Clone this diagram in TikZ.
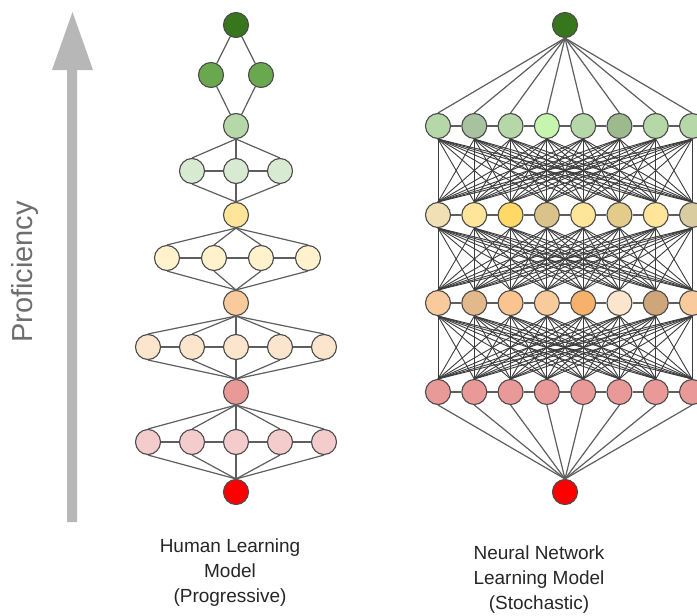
\documentclass[tikz,border=0pt]{standalone}
\usepackage{fontspec}
\setmainfont{Liberation Sans}
\definecolor{ndborder}{HTML}{4A4A4A}
\definecolor{lncol}{HTML}{5E5E5E}
\definecolor{meshcol}{HTML}{3C3C3C}
\definecolor{arrowgray}{HTML}{B7B7B7}
\definecolor{profgray}{HTML}{6E6E6E}
\definecolor{captxt}{HTML}{262626}
\definecolor{dg}{HTML}{38761D}
\definecolor{mg}{HTML}{6AA84F}
\definecolor{lg}{HTML}{B6D7A8}
\definecolor{plg}{HTML}{D9EAD3}
\definecolor{ly}{HTML}{FFE599}
\definecolor{ply}{HTML}{FFF2CC}
\definecolor{lo}{HTML}{F9CB9C}
\definecolor{plo}{HTML}{FCE5CD}
\definecolor{lr}{HTML}{EA9999}
\definecolor{plr}{HTML}{F4CCCC}
\definecolor{rd}{HTML}{FF0000}
\definecolor{ga}{HTML}{A8C2A0}
\definecolor{gb}{HTML}{C6F5B0}
\definecolor{gc}{HTML}{9DBA8E}
\definecolor{ya}{HTML}{F1E0B5}
\definecolor{yb}{HTML}{FFD966}
\definecolor{yc}{HTML}{D9C38A}
\definecolor{yd}{HTML}{E3CC8A}
\definecolor{ye}{HTML}{D8CCA0}
\definecolor{oa}{HTML}{E3B98C}
\definecolor{ob}{HTML}{F9C48F}
\definecolor{oc}{HTML}{F6B26B}
\definecolor{od}{HTML}{CFA57A}
\begin{document}
\begin{tikzpicture}[x=1pt,y=-1pt,
  nd/.style={circle,draw=ndborder,line width=1.1pt,minimum size=25pt,inner sep=0pt},
  ln/.style={draw=lncol,line width=1.2pt},
  mesh/.style={draw=meshcol,line width=0.9pt},
  captext/.style={align=center,text=captxt,font=\fontsize{19}{25}\selectfont}]
\useasboundingbox (0,0) rectangle (697,616);
% proficiency arrow
\fill[arrowgray] (67,522) -- (67,70) -- (52,70) -- (72.5,12) -- (93,70) -- (77,70) -- (77,522) -- cycle;
\node[rotate=90,text=profgray,font=\fontsize{29}{34}\selectfont] (prof) at (25,272) {Proficiency};
% ---------- left: human learning model ----------
\node[nd,fill=dg] (L0) at (236,25) {};
\node[nd,fill=mg] (L1a) at (211,75) {};
\node[nd,fill=mg] (L1b) at (261,75) {};
\node[nd,fill=lg] (L2) at (236,126) {};
\foreach \x [count=\i] in {192,236,280}
  \node[nd,fill=plg] (L3\i) at (\x,171) {};
\node[nd,fill=ly] (L4) at (236,215) {};
\foreach \x [count=\i] in {167,214,261,308}
  \node[nd,fill=ply] (L5\i) at (\x,258) {};
\node[nd,fill=lo] (L6) at (236,303) {};
\foreach \x [count=\i] in {148,192,236,280,324}
  \node[nd,fill=plo] (L7\i) at (\x,347) {};
\node[nd,fill=lr] (L8) at (236,392) {};
\foreach \x [count=\i] in {148,192,236,280,324}
  \node[nd,fill=plr] (L9\i) at (\x,442) {};
\node[nd,fill=rd] (L10) at (236,492) {};
% left edges
\draw[ln] (L0) -- (L1a); \draw[ln] (L0) -- (L1b);
\draw[ln] (L1a) -- (L2); \draw[ln] (L1b) -- (L2);
\foreach \i in {1,2,3} {\draw[ln] (L2.south) -- (L3\i.north); \draw[ln] (L3\i.south) -- (L4.north);}
\draw[ln] (L31) -- (L32); \draw[ln] (L32) -- (L33);
\foreach \i in {1,...,4} {\draw[ln] (L4.south) -- (L5\i.north); \draw[ln] (L5\i.south) -- (L6.north);}
\draw[ln] (L51) -- (L52); \draw[ln] (L52) -- (L53); \draw[ln] (L53) -- (L54);
\foreach \i in {1,...,5} {\draw[ln] (L6.south) -- (L7\i.north); \draw[ln] (L7\i.south) -- (L8.north);
  \draw[ln] (L8.south) -- (L9\i.north); \draw[ln] (L9\i.south) -- (L10.north);}
\foreach \i/\j in {1/2,2/3,3/4,4/5} {\draw[ln] (L7\i) -- (L7\j); \draw[ln] (L9\i) -- (L9\j);}
% ---------- right: neural network model ----------
\node[nd,fill=dg] (R0) at (565,25) {};
\foreach \c [count=\i] in {lg,ga,lg,gb,lg,gc,lg,lg}
  \node[nd,fill=\c] (G\i) at ({438+36.29*(\i-1)},126) {};
\foreach \c [count=\i] in {ya,ly,yb,yc,ly,yd,ly,ye}
  \node[nd,fill=\c] (Y\i) at ({438+36.29*(\i-1)},215) {};
\foreach \c [count=\i] in {lo,oa,ob,lo,oc,plo,od,lo}
  \node[nd,fill=\c] (O\i) at ({438+36.29*(\i-1)},303) {};
\foreach \i in {1,...,8}
  \node[nd,fill=lr] (P\i) at ({438+36.29*(\i-1)},392) {};
\node[nd,fill=rd] (R9) at (565,492) {};
% right edges
\foreach \i in {1,...,8} {\draw[ln] (R0.south) -- (G\i.north); \draw[ln] (P\i.south) -- (R9.north);}
\foreach \i/\j in {1/2,2/3,3/4,4/5,5/6,6/7,7/8}
  {\draw[ln] (G\i) -- (G\j); \draw[ln] (Y\i) -- (Y\j); \draw[ln] (O\i) -- (O\j); \draw[ln] (P\i) -- (P\j);}
\foreach \u/\l in {G/Y,Y/O,O/P}
  \foreach \i in {1,...,8}
    \foreach \j in {1,...,8}
      \draw[mesh] (\u\i.south) -- (\l\j.north);
% captions
\node[captext] (capL) at (230,573) {Human Learning\\Model\\(Progressive)};
\node[captext] (capR) at (539,580) {Neural Network\\Learning Model\\(Stochastic)};
\end{tikzpicture}
\end{document}
